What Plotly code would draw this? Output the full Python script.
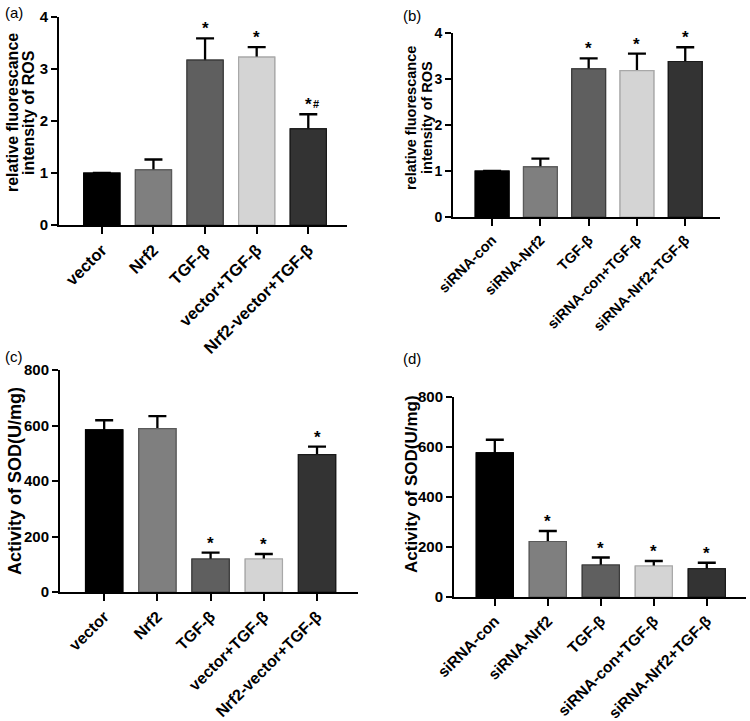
import plotly.graph_objects as go

# ---------------- data ----------------
cats_a = ["vector", "Nrf2", "TGF-β", "vector+TGF-β", "Nrf2-vector+TGF-β"]
ros_a = [1.0, 1.06, 3.17, 3.23, 1.85]
ros_a_err = [0.0, 0.20, 0.42, 0.19, 0.28]
ros_a_sig = ["", "", "*", "*", "*"]
ros_a_hash = ["", "", "", "", "#"]

cats_b = ["siRNA-con", "siRNA-Nrf2", "TGF-β", "siRNA-con+TGF-β", "siRNA-Nrf2+TGF-β"]
ros_b = [1.0, 1.09, 3.22, 3.18, 3.38]
ros_b_err = [0.0, 0.18, 0.23, 0.37, 0.31]
ros_b_sig = ["", "", "*", "*", "*"]

sod_c = [584, 589, 119, 119, 495]
sod_c_err = [35, 45, 23, 18, 29]
sod_c_sig = ["", "", "*", "*", "*"]

sod_d = [577, 222, 128, 124, 113]
sod_d_err = [52, 42, 30, 20, 24]
sod_d_sig = ["", "*", "*", "*", "*"]

bar_colors = ["#000000", "#7f7f7f", "#5f5f5f", "#d4d4d4", "#333333"]
line_colors = ["#000000", "#5a5a5a", "#3c3c3c", "#a8a8a8", "#1a1a1a"]

W, H = 750, 721
FONT = "Arial, Liberation Sans, Helvetica, sans-serif"


def px(x):
    return x / W


def py(y):
    return 1 - y / H


fig = go.Figure()

panels = [
    # (cats, vals, errs, sig, axis id, xdom(px), ydom(px), xrange, yrange, dtick, xfont, yfont)
    (cats_a, ros_a, ros_a_err, ros_a_sig, "", (59, 347), (17, 225), [-0.83, 4.75], [0, 4], 1, 16.5, 15),
    (cats_b, ros_b, ros_b_err, ros_b_sig, "2", (453, 720), (33, 217), [-0.81, 4.72], [0, 4], 1, 14.5, 14),
    (cats_a, sod_c, sod_c_err, sod_c_sig, "3", (60, 358), (370, 592), [-0.83, 4.77], [0, 800], 200, 16, 15),
    (cats_b, sod_d, sod_d_err, sod_d_sig, "4", (454, 746), (397, 597), [-0.77, 4.74], [0, 800], 200, 15.5, 15),
]

annotations = []
layout_axes = {}
for cats, vals, errs, sig, aid, xd, yd, xr, yr, dt, xf, yf in panels:
    xa = "x" + aid
    ya = "y" + aid
    # bars with error bars (lower half will be covered by the next trace)
    fig.add_trace(go.Bar(
        x=cats, y=vals, xaxis=xa, yaxis=ya,
        marker=dict(color=bar_colors, line=dict(color=line_colors, width=1.2)),
        error_y=dict(type="data", array=errs, symmetric=True,
                     color="#000000", thickness=2.3, width=9),
        showlegend=False, hoverinfo="skip",
    ))
    fig.add_trace(go.Bar(
        x=cats, y=vals, xaxis=xa, yaxis=ya,
        marker=dict(color=bar_colors, line=dict(color=line_colors, width=1.2)),
        showlegend=False, hoverinfo="skip",
    ))
    layout_axes["xaxis" + aid] = dict(
        domain=[px(xd[0]), px(xd[1])], anchor=ya, type="category",
        range=xr, showline=True, linecolor="#000", linewidth=2,
        ticks="outside", ticklen=7, tickwidth=2, tickcolor="#000",
        tickangle=-45, tickfont=dict(family=FONT, size=xf, color="#000", weight=700),
        showgrid=False, zeroline=False, automargin=False,
    )
    layout_axes["yaxis" + aid] = dict(
        domain=[py(yd[1]), py(yd[0])], anchor=xa,
        range=yr, dtick=dt, showline=True, linecolor="#000", linewidth=2,
        ticks="outside", ticklen=6, tickwidth=2, tickcolor="#000",
        tickfont=dict(family=FONT, size=yf, color="#000", weight=700),
        showgrid=False, zeroline=False, automargin=False,
    )
    for c, v, e, s in zip(cats, vals, errs, sig):
        if s:
            annotations.append(dict(
                x=c, y=v + e, xref=xa, yref=ya, text=s, showarrow=False,
                yanchor="bottom", xanchor="center", yshift=-2,
                font=dict(family=FONT, size=17, color="#000", weight=700)))

# '#' marker in panel (a)
for c, v, e, h in zip(cats_a, ros_a, ros_a_err, ros_a_hash):
    if h:
        annotations.append(dict(
            x=c, y=v + e, xref="x", yref="y", text=h, showarrow=False,
            yanchor="bottom", xanchor="center", xshift=8, yshift=2,
            font=dict(family=FONT, size=11, color="#000", weight=700)))

# axis titles
titles = [
    ("relative fluorescance", 12, 113, 16),
    ("intensity of ROS", 28, 113, 16),
    ("relative fluorescance", 411, 118, 14.5),
    ("intensity of ROS", 427, 118, 14.5),
    ("Activity of SOD(U/mg)", 15, 481, 18),
    ("Activity of SOD(U/mg)", 411, 484, 17),
]
for t, x, y, s in titles:
    annotations.append(dict(
        x=px(x), y=py(y), xref="paper", yref="paper", text=t, showarrow=False,
        textangle=-90, xanchor="center", yanchor="middle",
        font=dict(family=FONT, size=s, color="#000", weight=700)))

# panel labels
for t, x, y in [("(a)", 3, 2), ("(b)", 401, 5), ("(c)", 3, 346), ("(d)", 401, 348)]:
    annotations.append(dict(
        x=px(x), y=py(y), xref="paper", yref="paper", text=t, showarrow=False,
        xanchor="left", yanchor="top",
        font=dict(family=FONT, size=15, color="#000")))

fig.update_layout(
    width=W, height=H, margin=dict(l=0, r=0, t=0, b=0),
    paper_bgcolor="white", plot_bgcolor="white",
    barmode="overlay", bargap=0.3,
    annotations=annotations, showlegend=False,
    **layout_axes,
)

fig.write_html("out.html", config={"displayModeBar": False},
               post_script="document.body.style.margin='0';")
